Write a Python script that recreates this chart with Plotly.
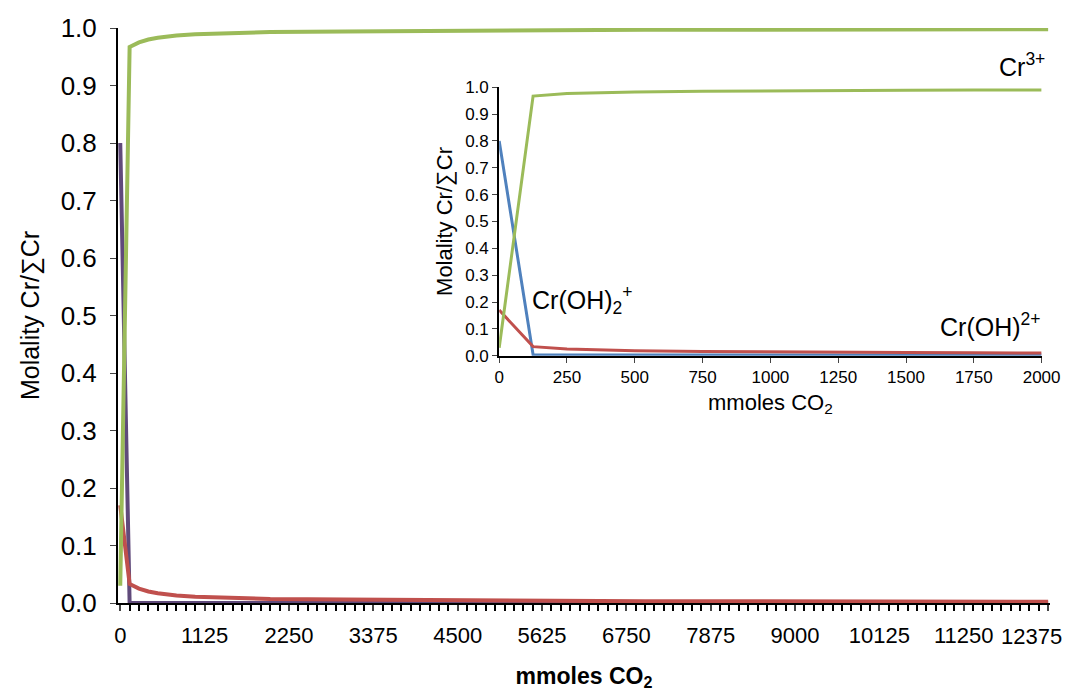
import plotly.graph_objects as go

# main chart (full run)
x_main = [0, 125, 250, 375, 500, 750, 1000, 1500, 2000, 3000, 4000, 5000, 6000, 7000, 8000, 9000, 10000, 11000, 12375]
cr3_main = [0.03, 0.967, 0.975, 0.980, 0.983, 0.987, 0.989, 0.991, 0.993, 0.994, 0.995, 0.996, 0.996, 0.997, 0.997, 0.997, 0.998, 0.998, 0.998]
croh_main = [0.17, 0.033, 0.025, 0.020, 0.017, 0.013, 0.011, 0.009, 0.007, 0.006, 0.005, 0.004, 0.004, 0.003, 0.003, 0.003, 0.002, 0.002, 0.002]
croh2_main = [0.80, 0.0, 0.0, 0.0, 0.0, 0.0, 0.0, 0.0, 0.0, 0.0, 0.0, 0.0, 0.0, 0.0, 0.0, 0.0, 0.0, 0.0, 0.0]
main_ticks = [0, 1125, 2250, 3375, 4500, 5625, 6750, 7875, 9000, 10125, 11250, 12375]

# inset (first 2000 mmoles)
x_ins = [0, 125, 250, 375, 500, 750, 1000, 1250, 1500, 1750, 2000]
cr3_ins = [0.03, 0.967, 0.977, 0.980, 0.982, 0.985, 0.987, 0.988, 0.989, 0.990, 0.990]
croh_ins = [0.17, 0.034, 0.025, 0.021, 0.019, 0.016, 0.014, 0.013, 0.012, 0.011, 0.010]
croh2_ins = [0.80, 0.004, 0.003, 0.003, 0.003, 0.003, 0.003, 0.003, 0.003, 0.003, 0.003]

GREEN, RED, PURPLE, BLUE = "#9BBB59", "#C0504D", "#604A7B", "#4F81BD"
FONT = "Liberation Sans, Arial, sans-serif"

# page body has an 8px margin, so the figure is drawn 8px in from the window corner
OFF = 8
FW, FH = 1068, 688
L, R, T, B = 118 - OFF, FW + OFF - 1050, 28 - OFF, FH + OFF - 603

# the last tick label is pushed left to fit inside the picture, as in the original
ticktext = [str(t) for t in main_ticks[:-1]] + [""]

fig = go.Figure()
fig.add_trace(go.Scatter(x=x_main, y=croh2_main, mode="lines", line=dict(color=PURPLE, width=4)))
fig.add_trace(go.Scatter(x=x_main, y=croh_main, mode="lines", line=dict(color=RED, width=4)))
fig.add_trace(go.Scatter(x=x_main, y=cr3_main, mode="lines", line=dict(color=GREEN, width=4)))

fig.add_trace(go.Scatter(x=x_ins, y=croh2_ins, mode="lines", line=dict(color=BLUE, width=3), xaxis="x2", yaxis="y2"))
fig.add_trace(go.Scatter(x=x_ins, y=croh_ins, mode="lines", line=dict(color=RED, width=3), xaxis="x2", yaxis="y2"))
fig.add_trace(go.Scatter(x=x_ins, y=cr3_ins, mode="lines", line=dict(color=GREEN, width=3), xaxis="x2", yaxis="y2"))

fig.update_layout(
    width=FW, height=FH,
    margin=dict(l=L, r=R, t=T, b=B),
    plot_bgcolor="white", paper_bgcolor="white",
    showlegend=False,
    font=dict(family=FONT, color="black"),
    xaxis=dict(range=[-30, 12400], tickvals=main_ticks, ticktext=ticktext,
               showgrid=False, zeroline=False, automargin=False,
               showline=True, linecolor="black", linewidth=2, ticks="outside", ticklen=6, tickwidth=1.5,
               tickfont=dict(size=22), ticklabelstandoff=6,
               minor=dict(dtick=125, tick0=0, ticks="outside", ticklen=6, tickwidth=1.5, tickcolor="black"),
               title=dict(text="<b>mmoles CO<sub>2</sub></b>", font=dict(size=23), standoff=20)),
    yaxis=dict(range=[0, 1.0], dtick=0.1, tickformat=".1f", showgrid=False, zeroline=False, automargin=False,
               showline=True, linecolor="black", linewidth=2, ticks="outside", ticklen=6,
               tickfont=dict(size=26), ticklabelstandoff=8,
               title=dict(text="Molality Cr/∑Cr", font=dict(size=25), standoff=14)),
    xaxis2=dict(domain=[0.409, 0.991], anchor="y2", range=[0, 2000], dtick=250, showgrid=False, zeroline=False,
                showline=True, linecolor="black", linewidth=2, ticks="outside", ticklen=5, automargin=False,
                tickfont=dict(size=17),
                title=dict(text="mmoles CO<sub>2</sub>", font=dict(size=22), standoff=8)),
    yaxis2=dict(domain=[0.43, 0.897], anchor="x2", range=[0, 1.0], dtick=0.1, tickformat=".1f", showgrid=False,
                zeroline=False, showline=True, linecolor="black", linewidth=2, ticks="outside", ticklen=5,
                automargin=False, tickfont=dict(size=17),
                title=dict(text="Molality Cr/∑Cr", font=dict(size=22), standoff=6)),
    annotations=[
        dict(text="Cr<sup>3+</sup>", x=1047, y=47, showarrow=False, font=dict(size=25)),
        dict(text="Cr(OH)<sub>2</sub><sup>+</sup>", x=582, y=300, showarrow=False, font=dict(size=25)),
        dict(text="Cr(OH)<sup>2+</sup>", x=1042, y=325, showarrow=False, font=dict(size=25)),
        dict(text=str(main_ticks[-1]), x=1031, y=636, xanchor="center", yanchor="middle",
             showarrow=False, font=dict(size=22)),
    ],
)

# convert window pixel positions of labels to paper coordinates
W, H = FW - L - R, FH - T - B
for a in fig.layout.annotations:
    a.xref, a.yref = "paper", "paper"
    a.x = (a.x - OFF - L) / W
    a.y = (FH - B + OFF - a.y) / H

fig.write_html("out.html")
